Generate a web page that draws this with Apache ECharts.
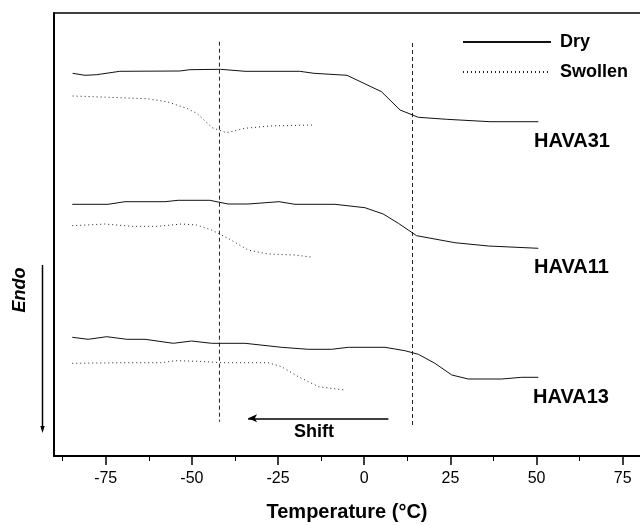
<!DOCTYPE html>
<html>
<head>
<meta charset="utf-8">
<script src="https://cdn.jsdelivr.net/npm/echarts@6/dist/echarts.min.js"></script>
<style>html,body{margin:0;padding:0;background:#fff;}#c{width:640px;height:525px;}</style>
</head>
<body>
<div id="c"></div>
<script>
// Temperature (°C) vs arbitrary heat-flow offset (Endo down)
const dry31 = [[-84.6,382.7],[-81.0,380.7],[-77.6,381.3],[-70.9,384.7],[-53.5,385],[-50.6,386.3],[-41.7,386.7],[-34.6,384.7],[-18.7,384.7],[-14.6,382.7],[-5.0,380.7],[5.0,364.3],[10.4,346],[15.7,338.7],[23.9,336.7],[36.5,334.3],[50.5,334.3]];
const swollen31 = [[-84.6,360],[-78.6,359.3],[-63.1,357.3],[-57.3,354.3],[-51.5,347.7],[-48.6,342.7],[-44.1,328.3],[-40.0,323.3],[-34.6,327.7],[-27.5,330],[-15.1,331]];
const dry11 = [[-84.7,251.7],[-74.3,251.7],[-69.4,254.3],[-57.8,254.3],[-54.0,255.7],[-44.8,255.7],[-39.5,252],[-33.7,252],[-24.7,254.3],[-20.1,251.7],[-8.5,251.7],[0.2,248.3],[5.5,242],[9.9,232.7],[15.2,220.3],[26.3,213.3],[36.0,210],[50.5,207.7]];
const swollen11 = [[-84.7,230.3],[-75.2,232],[-67.5,229.7],[-59.8,229.7],[-53.0,232],[-48.6,231],[-44.3,226],[-39.5,217.7],[-33.7,206],[-27.9,202],[-20.1,201],[-14.8,198.7]];
const dry13 = [[-84.7,118.7],[-80.1,116.7],[-74.7,119.3],[-68.9,116.7],[-63.6,116.7],[-55.4,112.7],[-50.1,115],[-44.3,112.7],[-34.6,112.7],[-24.0,108.7],[-16.2,106.7],[-9.5,106.7],[-4.6,108.7],[6.0,108.7],[11.8,105.3],[15.7,101.7],[20.5,92.7],[25.4,81],[30.2,77],[39.9,77],[45.7,78.7],[50.5,78.7]];
const swollen13 = [[-84.7,92.7],[-70.4,93.3],[-58.8,93.3],[-54.9,95.3],[-48.2,94.7],[-41.4,93.3],[-27.9,93.3],[-24.0,89.3],[-19.1,79.3],[-13.3,69.3],[-5.6,66]];
const guide1 = [[-42,414.3],[-42,34.3]];
const guide2 = [[14,413],[14,31]];
const shiftArrow = [[7,37.7],[-33.7,37.7]];
const majorTicks = [-75,-50,-25,0,25,50,75];
const minorTicks = [-87.5,-62.5,-37.5,-12.5,12.5,37.5,62.5];
const sampleLabels = ['HAVA31','HAVA11','HAVA13'];

const FONT = 'Liberation Sans';
const chart = echarts.init(document.getElementById('c'), null, {renderer:'canvas'});
const dryStyle = {color:'#111', width:1, type:'solid'};
const swStyle = {color:'#222', width:1, type:[1,3]};
function curve(name, data, ls){
  return {type:'line', name, data, symbol:'none', smooth:false, lineStyle:ls, itemStyle:{color:'#111'}, animation:false, silent:true, z:3};
}
const option = {
  animation:false,
  backgroundColor:'#fff',
  grid:{left:54, right:0, top:13, bottom:69, containLabel:false, outerBoundsMode:'none'},
  legend:{
    data:['Dry','Swollen'], orient:'vertical', left:462, top:33, padding:0,
    itemWidth:88, itemHeight:14, itemGap:12,
    itemStyle:{opacity:0},
    textStyle:{fontFamily:FONT, fontSize:18, fontWeight:'bold', color:'#000', padding:[0,0,0,4]},
    selectedMode:false
  },
  xAxis:[
    {type:'value', min:-90, max:80, position:'bottom',
     name:'Temperature (°C)', nameLocation:'middle', nameGap:46,
     nameTextStyle:{fontFamily:FONT, fontSize:20, fontWeight:'bold', color:'#000'},
     axisLine:{show:true, onZero:false, lineStyle:{color:'#000', width:2}},
     axisTick:{show:true, inside:false, length:9, customValues:majorTicks, lineStyle:{color:'#000', width:1.5}},
     axisLabel:{show:true, customValues:majorTicks, margin:15, fontFamily:FONT, fontSize:16, color:'#000'},
     splitLine:{show:false}},
    {type:'value', min:-90, max:80, position:'bottom', gridIndex:0,
     axisLine:{show:false, onZero:false},
     axisTick:{show:true, inside:false, length:5, customValues:minorTicks, lineStyle:{color:'#000', width:1}},
     axisLabel:{show:false}, splitLine:{show:false}},
    {type:'value', min:-90, max:80, position:'top', gridIndex:0,
     axisLine:{show:true, onZero:false, lineStyle:{color:'#000', width:1.5}},
     axisTick:{show:false}, axisLabel:{show:false}, splitLine:{show:false}}
  ],
  yAxis:{type:'value', min:0, max:443, position:'left',
    axisLine:{show:true, onZero:false, lineStyle:{color:'#000', width:2}},
    axisTick:{show:false}, axisLabel:{show:false}, splitLine:{show:false}},
  series:[
    curve('Dry', dry31, dryStyle),
    curve('Swollen', swollen31, swStyle),
    curve('Dry', dry11, dryStyle),
    curve('Swollen', swollen11, swStyle),
    curve('Dry', dry13, dryStyle),
    curve('Swollen', swollen13, swStyle),
    {type:'line', name:'guide1', data:guide1, symbol:'none', lineStyle:{color:'#222', width:1, type:[4,3]}, silent:true, z:2},
    {type:'line', name:'guide2', data:guide2, symbol:'none', lineStyle:{color:'#222', width:1, type:[4,3]}, silent:true, z:2},
    {type:'line', name:'shift', data:[], symbol:'none', silent:true,
     markLine:{silent:true, symbol:['none','arrow'], symbolSize:[6,9], label:{show:false},
       lineStyle:{color:'#000', width:1.5, type:'solid'},
       emphasis:{disabled:true},
       data:[[{coord:shiftArrow[0]},{coord:shiftArrow[1]}]]}}
  ],
  graphic:[
    {type:'text', x:534, y:141, style:{text:sampleLabels[0], font:'bold 20px "Liberation Sans"', fill:'#000', verticalAlign:'middle', textVerticalAlign:'middle'}},
    {type:'text', x:534, y:267, style:{text:sampleLabels[1], font:'bold 20px "Liberation Sans"', fill:'#000', verticalAlign:'middle', textVerticalAlign:'middle'}},
    {type:'text', x:533, y:397, style:{text:sampleLabels[2], font:'bold 20px "Liberation Sans"', fill:'#000', verticalAlign:'middle', textVerticalAlign:'middle'}},
    {type:'text', x:314, y:432, style:{text:'Shift', font:'bold 18px "Liberation Sans"', fill:'#000', align:'center', textAlign:'center', verticalAlign:'middle', textVerticalAlign:'middle'}},
    {type:'text', x:20, y:290, rotation:Math.PI/2, style:{text:'Endo', font:'italic bold 18px "Liberation Sans"', fill:'#000', align:'center', textAlign:'center', verticalAlign:'middle', textVerticalAlign:'middle'}},
    {type:'line', shape:{x1:42.5, y1:265, x2:42.5, y2:428}, style:{stroke:'#000', lineWidth:1.5}},
    {type:'polygon', shape:{points:[[40.3,426],[44.7,426],[42.5,433]]}, style:{fill:'#000'}}
  ]
};
chart.setOption(option);
</script>
</body>
</html>
